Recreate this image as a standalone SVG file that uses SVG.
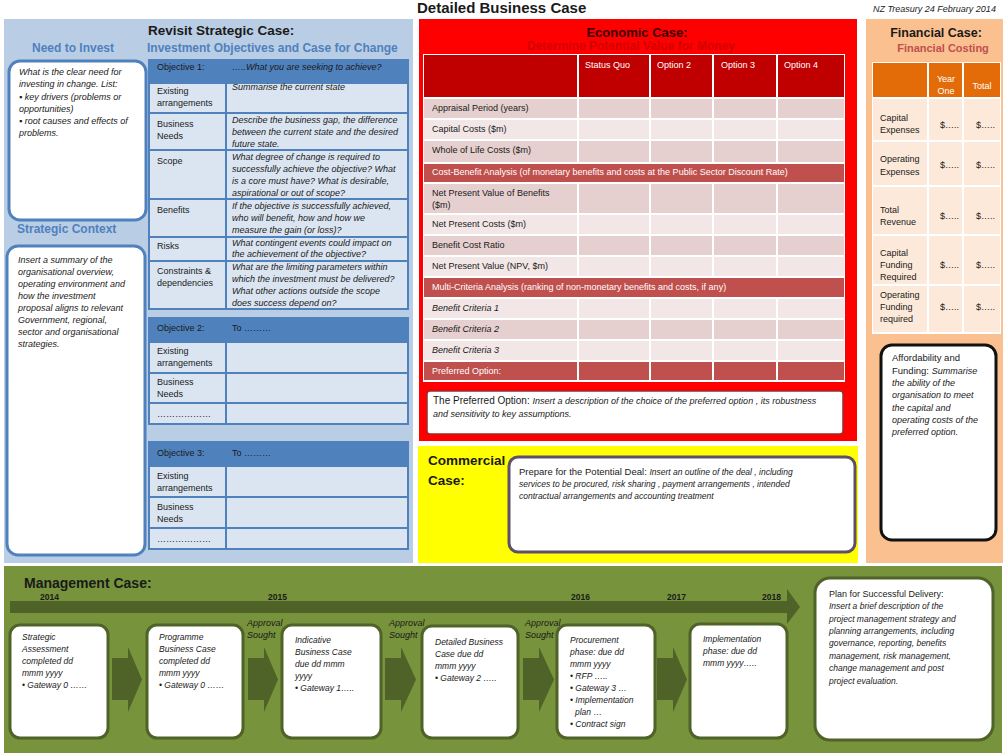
<svg xmlns="http://www.w3.org/2000/svg" width="1008" height="756" viewBox="0 0 1008 756">
<style>
text { font-family: "Liberation Sans", Arial, sans-serif; fill: #1a1a1a; font-size: 9px; }
.i { font-style: italic; }
.b { font-weight: bold; }
.s85 { font-size: 8.5px; }
.w { fill: #ffffff; }
.h12 { font-size: 12px; font-weight: bold; fill: #4f81bd; }
.cell { fill: #dbe5f1; stroke: #4f81bd; stroke-width: 2; }
.objh { fill: #4f81bd; stroke: #4f81bd; stroke-width: 2; }
.bluebox { fill: #ffffff; stroke: #4f81bd; stroke-width: 3; }
.edk { fill: #e6cfcf; }
.elt { fill: #f2e6e6; }
.ered { fill: #c0504d; }
.fcell { fill: #fde9d9; }
.gbox { fill: #ffffff; stroke: #4f6228; stroke-width: 3; }
.garrow { fill: #4f6228; }
.vsep { stroke: #ffffff; stroke-width: 2; }
</style>
<rect x="0" y="0" width="1008" height="756" fill="#ffffff"/>

<g id="title">
<text x="417" y="13" class="b" style="font-size:15px">Detailed Business Case</text>
<text x="873" y="12" class="i">NZ Treasury  24 February 2014</text>
</g>

<g id="strategic-case">
<rect x="4" y="19" width="409" height="544" fill="#b9cde5"/>
<text x="148" y="35" class="b" style="font-size:13.5px">Revisit Strategic Case:</text>
<text x="147" y="52" class="h12">Investment Objectives and Case for Change</text>
</g>

<g id="need-to-invest">
<text x="32" y="52" class="h12">Need to Invest</text>
<rect x="9" y="61" width="137" height="159" rx="11" class="bluebox"/>
<text class="i" x="19" y="75">What  is  the clear need for</text>
<text class="i" x="19" y="87">investing in change. List:</text>
<text class="i" x="19" y="99.5">▪ key drivers (problems or</text>
<text class="i" x="19" y="111.5">opportunities)</text>
<text class="i" x="19" y="123.5">▪ root causes and effects of</text>
<text class="i" x="19" y="135.5">problems.</text>
</g>

<g id="strategic-context">
<text x="17" y="233" class="h12">Strategic Context</text>
<rect x="7" y="246" width="138" height="309" rx="11" class="bluebox"/>
<text class="i" x="18" y="263">Insert a summary of  the</text>
<text class="i" x="18" y="275">organisational overview,</text>
<text class="i" x="18" y="287">operating environment and</text>
<text class="i" x="18" y="299">how the investment</text>
<text class="i" x="18" y="311">proposal aligns  to relevant</text>
<text class="i" x="18" y="323">Government, regional,</text>
<text class="i" x="18" y="335">sector and organisational</text>
<text class="i" x="18" y="347">strategies.</text>
</g>

<g id="objective-1">
<rect class="objh" x="149" y="60" width="259" height="23"/>
<text x="157" y="70">Objective  1:</text>
<text x="232" y="70" class="i">…..What you are seeking to achieve?</text>
<rect class="cell" x="149" y="83" width="77" height="30"/><rect class="cell" x="226" y="83" width="182" height="30"/>
<rect class="cell" x="149" y="113" width="77" height="37"/><rect class="cell" x="226" y="113" width="182" height="37"/>
<rect class="cell" x="149" y="150" width="77" height="49"/><rect class="cell" x="226" y="150" width="182" height="49"/>
<rect class="cell" x="149" y="199" width="77" height="38"/><rect class="cell" x="226" y="199" width="182" height="38"/>
<rect class="cell" x="149" y="237" width="77" height="24"/><rect class="cell" x="226" y="237" width="182" height="24"/>
<rect class="cell" x="149" y="261" width="77" height="48"/><rect class="cell" x="226" y="261" width="182" height="48"/>
<text x="157" y="94">Existing</text>
<text x="157" y="106">arrangements</text>
<text x="232" y="90" class="i">Summarise the current state</text>
<text x="157" y="127">Business</text>
<text x="157" y="139">Needs</text>
<text x="232" y="123" class="i">Describe the business gap, the difference</text>
<text x="232" y="135" class="i">between the current state and the desired</text>
<text x="232" y="147" class="i">future state.</text>
<text x="157" y="164">Scope</text>
<text x="232" y="160" class="i">What degree of change is required to</text>
<text x="232" y="172" class="i">successfully achieve the objective? What</text>
<text x="232" y="184" class="i">is a core must have? What is desirable,</text>
<text x="232" y="196" class="i">aspirational or out of scope?</text>
<text x="157" y="213">Benefits</text>
<text x="232" y="209" class="i">If the objective is successfully achieved,</text>
<text x="232" y="221" class="i">who will benefit, how and how we</text>
<text x="232" y="233" class="i">measure the gain (or loss)?</text>
<text x="157" y="249">Risks</text>
<text x="232" y="246" class="i">What contingent events could impact on</text>
<text x="232" y="257" class="i">the achievement of the objective?</text>
<text x="157" y="274">Constraints &amp;</text>
<text x="157" y="286">dependencies</text>
<text x="232" y="270" class="i">What are the limiting parameters within</text>
<text x="232" y="282" class="i">which the investment must be delivered?</text>
<text x="232" y="294" class="i">What other actions outside the scope</text>
<text x="232" y="306" class="i">does success depend on?</text>
</g>

<g id="objective-2">
<rect class="objh" x="149" y="318" width="259" height="24"/>
<text x="157" y="331">Objective  2:</text>
<text x="232" y="331">To ………</text>
<rect class="cell" x="149" y="342" width="77" height="31"/><rect class="cell" x="226" y="342" width="182" height="31"/>
<rect class="cell" x="149" y="373" width="77" height="30"/><rect class="cell" x="226" y="373" width="182" height="30"/>
<rect class="cell" x="149" y="403" width="77" height="21"/><rect class="cell" x="226" y="403" width="182" height="21"/>
<text x="157" y="354">Existing</text>
<text x="157" y="366">arrangements</text>
<text x="157" y="385">Business</text>
<text x="157" y="397">Needs</text>
<text x="157" y="417">………………</text>
</g>

<g id="objective-3">
<rect class="objh" x="149" y="442" width="259" height="24"/>
<text x="157" y="456">Objective  3:</text>
<text x="232" y="456">To ………</text>
<rect class="cell" x="149" y="466" width="77" height="31"/><rect class="cell" x="226" y="466" width="182" height="31"/>
<rect class="cell" x="149" y="497" width="77" height="31"/><rect class="cell" x="226" y="497" width="182" height="31"/>
<rect class="cell" x="149" y="528" width="77" height="21"/><rect class="cell" x="226" y="528" width="182" height="21"/>
<text x="157" y="479">Existing</text>
<text x="157" y="491">arrangements</text>
<text x="157" y="510">Business</text>
<text x="157" y="522">Needs</text>
<text x="157" y="542">………………</text>
</g>

<g id="economic-case">
<rect x="419" y="19" width="438" height="422" fill="#ff0000"/>
<text x="637" y="37" class="b" text-anchor="middle" style="font-size:13px;fill:#3a0000">Economic Case:</text>
<text x="631" y="50" class="b" text-anchor="middle" style="font-size:12px;fill:#d40000">Determine Potential Value for Money</text>
<rect x="423" y="54" width="422" height="328" fill="#ffffff"/>
<rect x="424" y="55" width="420" height="42" fill="#c00000"/>
<rect x="424" y="99" width="420" height="19" class="edk"/>
<rect x="424" y="120" width="420" height="19" class="elt"/>
<rect x="424" y="141" width="420" height="21" class="edk"/>
<rect x="424" y="164" width="420" height="18" class="ered"/>
<rect x="424" y="184" width="420" height="29" class="edk"/>
<rect x="424" y="215" width="420" height="19" class="elt"/>
<rect x="424" y="236" width="420" height="19" class="edk"/>
<rect x="424" y="257" width="420" height="19" class="elt"/>
<rect x="424" y="278" width="420" height="19" class="ered"/>
<rect x="424" y="299" width="420" height="19" class="elt"/>
<rect x="424" y="320" width="420" height="19" class="edk"/>
<rect x="424" y="341" width="420" height="19" class="elt"/>
<rect x="424" y="362" width="420" height="18" class="ered"/>
<path class="vsep" d="M578 55V163M650 55V163M713 55V163M777 55V163M578 183V277M650 183V277M713 183V277M777 183V277M578 298V380M650 298V380M713 298V380M777 298V380"/>
<text x="585" y="68" class="w">Status Quo</text>
<text x="657" y="68" class="w">Option 2</text>
<text x="721" y="68" class="w">Option 3</text>
<text x="784" y="68" class="w">Option 4</text>
<text x="432" y="111">Appraisal Period (years)</text>
<text x="432" y="132">Capital Costs ($m)</text>
<text x="432" y="153">Whole of Life Costs ($m)</text>
<text x="432" y="175" class="w">Cost-Benefit Analysis (of monetary benefits and costs at the Public Sector Discount Rate)</text>
<text x="432" y="196">Net Present Value of Benefits</text>
<text x="432" y="208">($m)</text>
<text x="432" y="227">Net Present Costs ($m)</text>
<text x="432" y="248">Benefit Cost Ratio</text>
<text x="432" y="269">Net Present Value (NPV, $m)</text>
<text x="432" y="290" class="w">Multi-Criteria Analysis (ranking of non-monetary benefits and costs, if any)</text>
<text x="432" y="311" class="i">Benefit Criteria 1</text>
<text x="432" y="332" class="i">Benefit Criteria 2</text>
<text x="432" y="353" class="i">Benefit Criteria 3</text>
<text x="432" y="374" class="w">Preferred  Option:</text>
</g>

<g id="preferred-option">
<rect x="427" y="391" width="416" height="43" rx="3" fill="#ffffff" stroke="#9b2b2b" stroke-width="1.5"/>
<text x="433" y="404"><tspan style="font-size:10px">The Preferred Option: </tspan><tspan class="i">Insert a description of the choice of the preferred option , its  robustness</tspan></text>
<text x="433" y="417" class="i">and sensitivity to key assumptions.</text>
</g>

<g id="commercial-case">
<rect x="418" y="446" width="440" height="117" fill="#ffff00"/>
<text x="428" y="465" class="b" style="font-size:13.5px">Commercial</text>
<text x="428" y="485" class="b" style="font-size:13.5px">Case:</text>
<rect x="509" y="457" width="346" height="95" rx="9" fill="#ffffff" stroke="#5f5069" stroke-width="3"/>
<text x="519" y="475"><tspan style="font-size:9.5px">Prepare for the Potential Deal: </tspan><tspan class="i s85">Insert an outline of the deal , including</tspan></text>
<text x="519" y="487" class="i s85">services to be procured, risk sharing , payment arrangements , intended</text>
<text x="519" y="499" class="i s85">contractual  arrangements and accounting treatment</text>
</g>

<g id="financial-case">
<rect x="866" y="19" width="137" height="544" fill="#fac090"/>
<text x="936" y="37" class="b" text-anchor="middle" style="font-size:12.5px">Financial Case:</text>
<text x="943" y="52" class="b" text-anchor="middle" style="font-size:11px;fill:#c0504d">Financial Costing</text>
<rect x="872" y="62" width="129" height="272" fill="#ffffff"/>
<rect x="873" y="63" width="127" height="34" fill="#e36c09"/>
<rect x="873" y="99" width="127" height="41" class="fcell"/>
<rect x="873" y="142" width="127" height="43" class="fcell"/>
<rect x="873" y="187" width="127" height="47" class="fcell"/>
<rect x="873" y="236" width="127" height="48" class="fcell"/>
<rect x="873" y="286" width="127" height="46" class="fcell"/>
<path class="vsep" d="M928 62V333M963 62V333"/>
<text x="946" y="82" class="w" text-anchor="middle">Year</text>
<text x="946" y="94" class="w" text-anchor="middle">One</text>
<text x="982" y="89" class="w" text-anchor="middle">Total</text>
<text x="880" y="121">Capital</text>
<text x="880" y="133">Expenses</text>
<text x="880" y="162">Operating</text>
<text x="880" y="175">Expenses</text>
<text x="880" y="213">Total</text>
<text x="880" y="225">Revenue</text>
<text x="880" y="256">Capital</text>
<text x="880" y="268">Funding</text>
<text x="880" y="280">Required</text>
<text x="880" y="298">Operating</text>
<text x="880" y="310">Funding</text>
<text x="880" y="322">required</text>
<text x="940" y="128">$…..</text><text x="976" y="128">$…..</text>
<text x="940" y="168">$…..</text><text x="976" y="168">$…..</text>
<text x="940" y="219">$…..</text><text x="976" y="219">$…..</text>
<text x="940" y="268">$…..</text><text x="976" y="268">$…..</text>
<text x="940" y="310">$…..</text><text x="976" y="310">$…..</text>
</g>

<g id="affordability">
<rect x="881" y="345" width="115" height="195" rx="11" fill="#ffffff" stroke="#111111" stroke-width="3"/>
<text x="892" y="361" style="font-size:9.5px">Affordability and</text>
<text x="892" y="374"><tspan style="font-size:9.5px">Funding: </tspan><tspan class="i">Summarise</tspan></text>
<text x="892" y="386" class="i">the ability of the</text>
<text x="892" y="398" class="i">organisation to meet</text>
<text x="892" y="411" class="i">the capital and</text>
<text x="892" y="423" class="i">operating costs of the</text>
<text x="892" y="435" class="i">preferred option.</text>
</g>

<g id="management-case">
<rect x="4" y="566" width="998" height="187" fill="#77933c"/>
<text x="24" y="588" class="b" style="font-size:14px">Management Case:</text>
<text x="40" y="600" class="b s85">2014</text>
<text x="268" y="600" class="b s85">2015</text>
<text x="571" y="600" class="b s85">2016</text>
<text x="667" y="600" class="b s85">2017</text>
<text x="762" y="600" class="b s85">2018</text>
<text x="247" y="626" class="i">Approval</text>
<text x="247" y="638" class="i">Sought</text>
<text x="389" y="626" class="i">Approval</text>
<text x="389" y="638" class="i">Sought</text>
<text x="525" y="626" class="i">Approval</text>
<text x="525" y="638" class="i">Sought</text>
</g>

<g id="connectors">
<polygon class="garrow" points="10,601 787,601 787,589 800,607 787,624 787,613 10,613"/>
<polygon class="garrow" points="112,658 128,658 128,647 142,679.5 128,712 128,700 112,700"/>
<polygon class="garrow" points="248,658 264,658 264,647 278,679.5 264,712 264,700 248,700"/>
<polygon class="garrow" points="385,658 401,658 401,647 416,679.5 401,712 401,700 385,700"/>
<polygon class="garrow" points="523,658 539,658 539,647 554,679.5 539,712 539,700 523,700"/>
<polygon class="garrow" points="657,658 673,658 673,647 687,679.5 673,712 673,700 657,700"/>
</g>

<g id="box-strategic-assessment">
<rect x="10" y="625" width="98" height="113" rx="10" class="gbox"/>
<text x="22" y="640" class="i s85">Strategic</text>
<text x="22" y="652" class="i s85">Assessment</text>
<text x="22" y="664" class="i s85">completed dd</text>
<text x="22" y="676" class="i s85">mmm yyyy</text>
<text x="22" y="688" class="i s85">• Gateway 0 ……</text>
</g>

<g id="box-programme-business-case">
<rect x="147" y="625" width="96" height="113" rx="10" class="gbox"/>
<text x="159" y="640" class="i s85">Programme</text>
<text x="159" y="652" class="i s85">Business Case</text>
<text x="159" y="664" class="i s85">completed dd</text>
<text x="159" y="676" class="i s85">mmm yyyy</text>
<text x="159" y="688" class="i s85">• Gateway 0 ……</text>
</g>

<g id="box-indicative-business-case">
<rect x="282" y="625" width="99" height="113" rx="10" class="gbox"/>
<text x="295" y="643" class="i s85">Indicative</text>
<text x="295" y="655" class="i s85">Business Case</text>
<text x="295" y="667" class="i s85">due dd mmm</text>
<text x="295" y="679" class="i s85">yyyy</text>
<text x="295" y="691" class="i s85">• Gateway 1…..</text>
</g>

<g id="box-detailed-business-case">
<rect x="422" y="626" width="96" height="112" rx="10" class="gbox"/>
<text x="435" y="645" class="i s85">Detailed Business</text>
<text x="435" y="657" class="i s85">Case due  dd</text>
<text x="435" y="669" class="i s85">mmm  yyyy</text>
<text x="435" y="681" class="i s85">• Gateway 2 …..</text>
</g>

<g id="box-procurement">
<rect x="557" y="625" width="98" height="113" rx="10" class="gbox"/>
<text x="570" y="643" class="i s85">Procurement</text>
<text x="570" y="655" class="i s85">phase: due dd</text>
<text x="570" y="667" class="i s85">mmm yyyy</text>
<text x="570" y="679" class="i s85">• RFP …..</text>
<text x="570" y="691" class="i s85">• Gateway 3 …</text>
<text x="570" y="703" class="i s85">• Implementation</text>
<text x="575" y="715" class="i s85">plan …</text>
<text x="570" y="727" class="i s85">• Contract sign</text>
</g>

<g id="box-implementation">
<rect x="690" y="624" width="97" height="114" rx="10" class="gbox"/>
<text x="703" y="642" class="i s85">Implementation</text>
<text x="703" y="654" class="i s85">phase: due dd</text>
<text x="703" y="666" class="i s85">mmm yyyy…..</text>
</g>

<g id="box-plan-delivery">
<rect x="815" y="578" width="178" height="162" rx="15" class="gbox"/>
<text x="829" y="597" style="font-size:9px">Plan for Successful Delivery:</text>
<text x="829" y="609" class="i s85">Insert a brief description of the</text>
<text x="829" y="622" class="i s85">project management strategy and</text>
<text x="829" y="634" class="i s85">planning arrangements, including</text>
<text x="829" y="646" class="i s85">governance, reporting, benefits</text>
<text x="829" y="659" class="i s85">management, risk management,</text>
<text x="829" y="671" class="i s85">change management and post</text>
<text x="829" y="684" class="i s85">project evaluation.</text>
</g>
</svg>
